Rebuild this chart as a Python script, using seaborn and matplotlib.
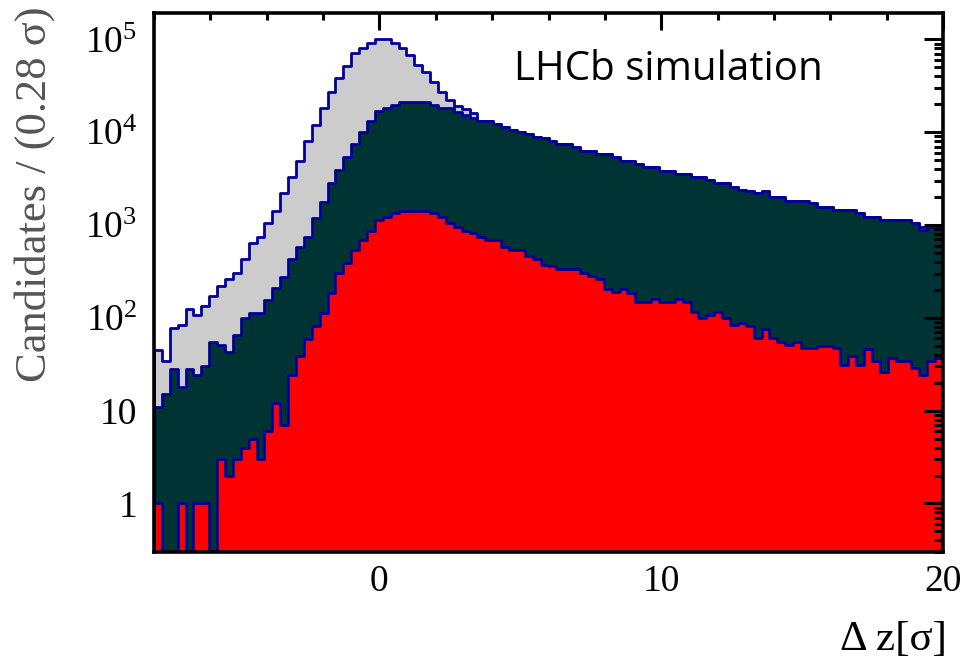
import numpy as np
import pandas as pd
import matplotlib
matplotlib.use("Agg")
import matplotlib.pyplot as plt
import matplotlib.ticker as mticker
import seaborn as sns

# Binning of the vertex separation (units of sigma)
z_low, z_high = -8.0, 20.0
bin_width = 0.28

# Candidates per bin: all candidates (grey)
all_candidates = [
    45, 34, 77, 83, 124, 107, 135, 173, 222, 259,
    305, 426, 634, 747, 1040, 1420, 2190, 3310, 4920, 8080,
    11900, 18000, 27200, 38000, 52000, 70600, 80000, 92000, 100000, 100000,
    92000, 80000, 67800, 52800, 44800, 34900, 27200, 22200, 19100, 17600,
    16200, 13200, 13200, 12100, 11300, 10500, 10100, 9460, 8790, 8710,
    8020, 7400, 7400, 6850, 6310, 6310, 5810, 5810, 5350, 4920,
    4920, 4530, 4180, 4180, 3850, 3850, 3540, 3540, 3260, 3260,
    3050, 2810, 2810, 2540, 2380, 2340, 2190, 2340, 1980, 1980,
    1820, 1820, 1820, 1710, 1570, 1570, 1450, 1450, 1450, 1335,
    1225, 1225, 1130, 1130, 1130, 1130, 1040, 957, 957, 957,
]

# Candidates per bin: displaced-vertex sample (dark green)
displaced = [
    11, 15, 28, 18, 28, 24, 30, 55, 51, 43,
    65, 99, 114, 114, 155, 210, 277, 426, 582, 747,
    1180, 1780, 2810, 3910, 5400, 7450, 10100, 13200, 17000, 18200,
    19700, 21300, 21300, 21300, 21300, 19400, 18000, 18000, 16600, 15300,
    14100, 13200, 13200, 12100, 11300, 10500, 10100, 9460, 8790, 8710,
    8020, 7400, 7400, 6850, 6310, 6310, 5810, 5810, 5350, 4920,
    4920, 4530, 4180, 4180, 3850, 3850, 3540, 3540, 3260, 3260,
    3050, 2810, 2810, 2540, 2380, 2340, 2190, 2340, 1980, 1980,
    1820, 1820, 1820, 1710, 1570, 1570, 1450, 1450, 1450, 1335,
    1225, 1225, 1130, 1130, 1130, 1130, 1040, 881, 957, 957,
]

# Candidates per bin: signal sample (red)
signal = [
    1, 0, 0, 1, 0, 1, 1, 0, 3, 2,
    3, 4, 5, 3, 6, 12, 7, 24, 39, 59,
    82, 114, 183, 301, 390, 537, 688, 867, 1130, 1225,
    1350, 1420, 1420, 1420, 1420, 1335, 1225, 1040, 957, 867,
    811, 747, 688, 688, 582, 537, 537, 462, 426, 370,
    361, 332, 332, 332, 305, 281, 259, 202, 191, 202,
    186, 149, 149, 158, 149, 149, 158, 149, 116, 99,
    107, 116, 99, 83, 88, 82, 60, 75, 60, 55,
    51, 55, 47, 47, 50, 50, 47, 31, 39, 31,
    46, 34, 26, 37, 34, 34, 29, 24, 34, 37,
]

y_tick_values = [1, 10, 100, 1000, 10000, 100000]
y_tick_labels = ["1", "10", "$10^{2}$", "$10^{3}$", "$10^{4}$", "$10^{5}$"]
x_tick_values = [0, 10, 20]
x_tick_labels = ["0", "10", "20"]

n_bins = len(all_candidates)
edges = z_low + bin_width * np.arange(n_bins + 1)
centres = 0.5 * (edges[:-1] + edges[1:])

sns.set_style("white")
plt.rcParams["font.family"] = ["Liberation Serif", "DejaVu Serif"]
plt.rcParams["mathtext.fontset"] = "custom"
plt.rcParams["mathtext.rm"] = "Liberation Serif"
plt.rcParams["mathtext.it"] = "Liberation Serif:italic"
plt.rcParams["mathtext.bf"] = "Liberation Serif:bold"

fig = plt.figure(figsize=(9.67, 6.6), dpi=100)
W, H = 967.0, 660.0
left, right, top, bottom = 154.0, 943.0, 13.0, 552.0
ax = fig.add_axes([left / W, 1 - bottom / H, (right - left) / W, (bottom - top) / H])

outline = "#000099"
layers = [
    (all_candidates, "#cccccc"),
    (displaced, "#003333"),
    (signal, "#ff0000"),
]
for counts, fill in layers:
    frame = pd.DataFrame({"dz": centres, "n": counts})
    sns.histplot(
        data=frame, x="dz", weights="n", bins=edges.tolist(), element="step",
        fill=True, color=fill, facecolor=fill, edgecolor=outline, linewidth=2.0,
        alpha=1.0, ax=ax,
    )

ax.set_yscale("log")
ax.set_xlim(z_low, z_high)
ax.set_ylim(0.30, 1.92e5)
ax.set_xlabel("")
ax.set_ylabel("")
ax.set_axisbelow(False)

ax.xaxis.set_major_locator(mticker.FixedLocator(x_tick_values))
ax.xaxis.set_major_formatter(mticker.FixedFormatter(x_tick_labels))
ax.xaxis.set_minor_locator(mticker.MultipleLocator(2))
ax.yaxis.set_major_locator(mticker.FixedLocator(y_tick_values))
ax.yaxis.set_major_formatter(mticker.FixedFormatter(y_tick_labels))
ax.yaxis.set_minor_locator(mticker.LogLocator(base=10, subs=np.arange(2, 10), numticks=20))
ax.yaxis.set_minor_formatter(mticker.NullFormatter())

ax.tick_params(axis="both", which="both", direction="in", top=True, right=True,
               width=2.2, color="black", labelsize=27, labelcolor="black")
ax.tick_params(axis="x", which="major", length=12, pad=9)
ax.tick_params(axis="x", which="minor", length=5)
ax.tick_params(axis="y", which="major", length=13.5, pad=12)
ax.tick_params(axis="y", which="minor", length=6.5)

for spine in ax.spines.values():
    spine.set_linewidth(2.6)
    spine.set_color("black")
    spine.set_visible(True)

ax.text(0.456, 0.876, "LHCb simulation", transform=ax.transAxes,
        ha="left", va="baseline", fontsize=29, color="black",
        family=["Open Sans", "DejaVu Sans"])

fig.text(947 / W, 10 / H, "\u0394 z[\u03c3]", ha="right", va="baseline",
         fontsize=31, color="black")
fig.text(35 / W, 1 - 6 / H, "Candidates / (0.28 \u03c3)", rotation=90,
         ha="center", va="top", fontsize=32, color="#555555")

fig.savefig("out.png", dpi=100, facecolor="white")
